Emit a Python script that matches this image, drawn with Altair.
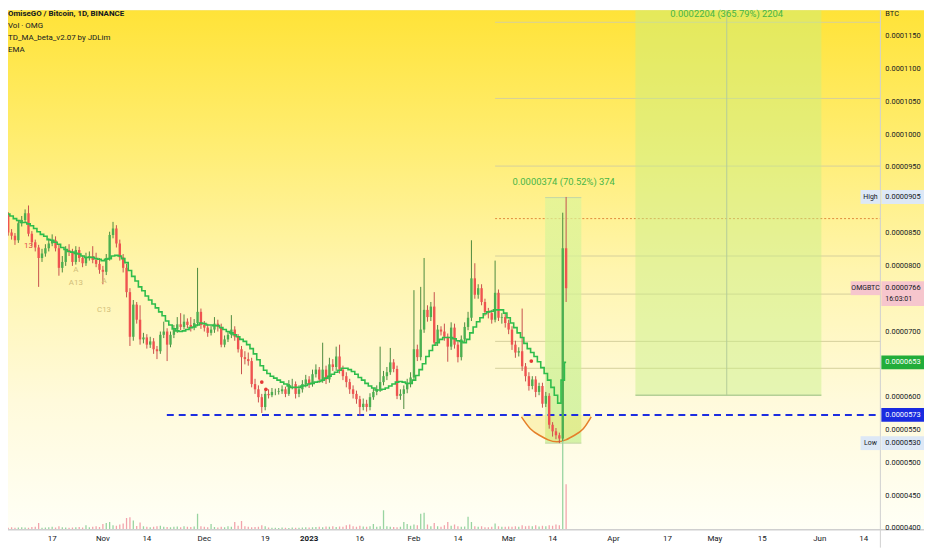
import altair as alt
import numpy as np
import pandas as pd

W, H, AX, DB = 880, 524, 44, 18
FONT = "Roboto"
E = 1e-7  # prices below are in units of 0.0000001 BTC

first_day = "2022-10-03"
first_open_e7 = 885
close_e7 = [
    878, 851, 846, 839, 865, 870, 880, 849, 836, 828,
    812, 819, 827, 834, 839, 827, 797, 806, 824, 821,
    806, 824, 812, 804, 812, 815, 809, 803, 794, 791,
    812, 847, 857, 834, 813, 797, 760, 692, 741, 718,
    688, 691, 680, 685, 673, 670, 695, 700, 680, 695,
    703, 711, 707, 715, 710, 707, 713, 730, 710, 706,
    698, 703, 712, 707, 680, 688, 695, 703, 692, 673,
    661, 658, 655, 620, 612, 600, 585, 605, 603, 608,
    608, 609, 612, 605, 620, 620, 605, 612, 620, 627,
    620, 635, 642, 627, 642, 627, 650, 646, 662, 642,
    632, 623, 612, 605, 597, 585, 590, 585, 600, 608,
    612, 623, 632, 638, 653, 643, 602, 605, 612, 620,
    630, 673, 661, 703, 733, 722, 738, 683, 703, 700,
    692, 677, 706, 680, 661, 688, 707, 721, 781, 756,
    766, 745, 730, 728, 718, 759, 721, 722, 713, 703,
    680, 668, 670, 647, 632, 617, 627, 608, 617, 590,
    602, 558, 548, 542, 537, 827, 766,
]
high_e7 = [
    892, 882, 856, 850, 870, 876, 886, 892, 853, 840,
    832, 826, 833, 842, 848, 845, 832, 815, 830, 833,
    826, 830, 829, 816, 820, 822, 830, 820, 812, 800,
    818, 852, 867, 862, 840, 818, 803, 766, 748, 745,
    740, 698, 696, 692, 690, 678, 700, 715, 705, 700,
    710, 722, 728, 726, 720, 722, 719, 797, 735, 716,
    712, 709, 722, 718, 712, 694, 700, 725, 708, 696,
    678, 670, 668, 660, 628, 618, 605, 610, 612, 614,
    613, 614, 618, 616, 626, 628, 624, 618, 626, 634,
    632, 642, 650, 646, 683, 648, 660, 658, 677, 680,
    648, 638, 628, 618, 610, 602, 598, 596, 606, 614,
    618, 677, 640, 646, 675, 658, 648, 612, 618, 628,
    638, 763, 680, 768, 812, 740, 745, 760, 710, 708,
    712, 697, 714, 712, 686, 694, 714, 730, 839, 804,
    772, 772, 750, 736, 733, 808, 764, 728, 728, 718,
    708, 686, 676, 735, 652, 638, 632, 632, 622, 622,
    608, 606, 562, 553, 546, 881, 905,
]
low_e7 = [
    872, 846, 840, 832, 835, 860, 866, 845, 830, 822,
    768, 806, 814, 822, 830, 822, 785, 790, 800, 815,
    800, 802, 806, 798, 800, 808, 804, 798, 788, 772,
    786, 808, 842, 828, 808, 790, 752, 678, 686, 712,
    680, 682, 674, 675, 666, 658, 666, 690, 655, 676,
    690, 698, 702, 703, 705, 700, 702, 708, 704, 700,
    692, 694, 698, 700, 676, 676, 684, 690, 686, 668,
    635, 650, 648, 615, 605, 592, 576, 580, 598, 600,
    603, 604, 605, 600, 602, 612, 598, 600, 607, 615,
    614, 616, 630, 622, 622, 620, 622, 640, 640, 636,
    626, 615, 605, 598, 590, 572, 580, 578, 580, 596,
    603, 608, 618, 626, 634, 638, 597, 596, 582, 606,
    615, 626, 655, 656, 698, 715, 716, 678, 678, 694,
    686, 654, 672, 674, 653, 656, 684, 702, 716, 750,
    750, 740, 724, 720, 712, 714, 716, 712, 706, 696,
    672, 660, 662, 640, 624, 610, 612, 600, 603, 584,
    585, 552, 540, 536, 530, 533, 745,
]
ema_e7 = [
    881, 879, 876, 872, 869, 866, 866, 864, 861, 857,
    852, 848, 845, 840, 839, 836, 833, 828, 825, 822,
    821, 819, 818, 815, 813, 813, 813, 811, 810, 808,
    810, 811, 815, 816, 815, 811, 805, 793, 784, 777,
    768, 762, 754, 748, 742, 736, 730, 724, 716, 710,
    704, 701, 700, 701, 703, 706, 707, 710, 713, 712,
    710, 710, 709, 709, 706, 703, 700, 698, 695, 692,
    688, 685, 680, 674, 666, 657, 648, 641, 636, 632,
    629, 626, 623, 620, 617, 615, 615, 615, 617, 618,
    620, 621, 623, 624, 626, 629, 632, 635, 638, 641,
    644, 644, 642, 639, 635, 630, 626, 621, 617, 614,
    611, 611, 612, 614, 617, 620, 623, 624, 623, 621,
    621, 626, 633, 642, 651, 662, 671, 679, 683, 688,
    691, 691, 691, 689, 686, 685, 683, 688, 698, 707,
    715, 721, 727, 730, 731, 733, 733, 733, 728, 721,
    713, 706, 698, 691, 682, 674, 668, 662, 654, 645,
    636, 626, 615, 603, 591, 626, 653,
]
vol_k = [
    9, 8, 10, 8, 9, 10, 9, 8, 11, 12,
    26, 8, 9, 10, 12, 9, 14, 10, 9, 8,
    9, 10, 11, 9, 18, 10, 12, 14, 11, 22,
    26, 30, 18, 16, 20, 24, 45, 48, 36, 15,
    28, 14, 12, 10, 12, 14, 16, 12, 11, 10,
    12, 13, 10, 14, 12, 11, 13, 62, 14, 12,
    10, 22, 11, 9, 12, 10, 14, 12, 30, 16,
    34, 14, 12, 10, 11, 12, 18, 14, 9, 8,
    8, 7, 9, 8, 7, 9, 8, 8, 9, 10,
    9, 10, 11, 12, 10, 13, 12, 14, 11, 13,
    12, 18, 20, 14, 12, 16, 13, 12, 14, 22,
    12, 14, 75, 14, 12, 11, 10, 12, 30, 22,
    16, 20, 18, 62, 66, 20, 14, 26, 14, 12,
    18, 30, 16, 20, 14, 12, 13, 50, 30, 14,
    12, 14, 10, 10, 12, 24, 14, 12, 12, 13,
    12, 14, 12, 18, 14, 16, 14, 18, 13, 16,
    14, 18, 16, 20, 18, 900, 175,
]

# drawings / annotations (date, price)
hline_prices_e7 = [1171, 1055, 952, 815, 757, 685, 644]
dotted_price_e7 = 872
support_price_e7 = 573
arc_dates = ["2023-03-04T19:00:00Z", "2023-03-07T10:00:00Z", "2023-03-10T02:00:00Z",
             "2023-03-12T17:00:00Z", "2023-03-15T07:00:00Z", "2023-03-17T22:00:00Z",
             "2023-03-20T12:00:00Z", "2023-03-23T02:00:00Z", "2023-03-25T10:00:00Z"]
arc_prices_e7 = [570, 552, 542, 535, 532, 535, 542, 552, 570]
dot_dates = ["2022-12-18T00:00:00Z", "2022-12-19T05:00:00Z", "2023-03-07T17:00:00Z"]
dot_prices_e7 = [623, 612, 655]
td_dates = ["2022-10-24T00:00:00Z", "2022-10-24T00:00:00Z", "2022-11-01T08:00:00Z", "2022-11-01T08:00:00Z"]
td_prices_e7 = [794, 774, 777, 733]
td_texts = ["A", "A13", "A", "C13"]

date_ticks = ["2022-10-17", "2022-11-01", "2022-11-14", "2022-12-01", "2022-12-19",
              "2023-01-16", "2023-02-01", "2023-02-14", "2023-03-01", "2023-03-14",
              "2023-04-01", "2023-04-17", "2023-05-01", "2023-05-15", "2023-06-01", "2023-06-14"]
date_labels = ["17", "Nov", "14", "Dec", "19", "16", "Feb", "14", "Mar", "14",
               "Apr", "17", "May", "15", "Jun", "14"]
year_tick = "2023-01-01"
price_ticks_e7 = [400, 450, 500, 550, 600, 700, 800, 850, 950, 1000, 1050, 1100, 1150]

n = len(close_e7)
dates = pd.date_range(first_day, periods=n, freq="D").strftime("%Y-%m-%d").tolist()
open_e7 = [first_open_e7] + close_e7[:-1]
df = pd.DataFrame({
    "date": dates,
    "open": [v * E for v in open_e7],
    "close": [v * E for v in close_e7],
    "high": [v * E for v in high_e7],
    "low": [v * E for v in low_e7],
    "ema": [v * E for v in ema_e7],
    "vol": vol_k,
})

XS = alt.Scale(type="utc", domain=[
    alt.DateTime(year=2022, month=10, date=5, hours=9, minutes=45, utc=True),
    alt.DateTime(year=2023, month=6, date=17, hours=11, minutes=30, utc=True)])
YS = alt.Scale(domain=[398 * E, 1189.2 * E], zero=False, nice=False)


def X(f="date"):
    return alt.X(f"{f}:T", scale=XS, axis=None)


def Y(f):
    return alt.Y(f"{f}:Q", scale=YS, axis=None)


one = pd.DataFrame({"k": [0]})
UP = "datum.close >= datum.open"

grad = alt.Gradient(gradient="linear", x1=0, x2=0, y1=0, y2=1, stops=[
    alt.GradientStop(color="#ffe338", offset=0),
    alt.GradientStop(color="#ffed70", offset=0.25),
    alt.GradientStop(color="#fff5ae", offset=0.5),
    alt.GradientStop(color="#fffadb", offset=0.75),
    alt.GradientStop(color="#fffff6", offset=1)])
bg = alt.Chart(one).mark_rect(color=grad, clip=False).encode(
    x=alt.value(0), x2=alt.value(W + AX), y=alt.value(0), y2=alt.value(H))

hl_df = pd.DataFrame({"p": [v * E for v in hline_prices_e7], "d1": "2023-02-25", "d2": "2023-06-25"})
hlines = alt.Chart(hl_df).mark_rule(color="#d6cf9c", strokeWidth=1, clip=True).encode(
    x=X("d1"), x2="d2:T", y=Y("p"))
dot_df = pd.DataFrame({"p": [dotted_price_e7 * E], "d1": ["2023-02-25"], "d2": ["2023-06-25"]})
dotted = alt.Chart(dot_df).mark_rule(color="#e08a3c", strokeWidth=1, strokeDash=[2, 2], clip=True).encode(
    x=X("d1"), x2="d2:T", y=Y("p"))

bb = pd.DataFrame({"d1": ["2023-04-07T12:00:00Z"], "d2": ["2023-06-01T12:00:00Z"],
                   "dm": ["2023-05-04T12:00:00Z"], "p1": [603 * E], "p2": [2807 * E]})
bigbox = alt.Chart(bb).mark_rect(color="#c6ef86", opacity=0.45, clip=True).encode(
    x=X("d1"), x2="d2:T", y=Y("p1"), y2="p2:Q")
bb_bottom = alt.Chart(bb).mark_rule(color="#b4cf96", strokeWidth=1.5, clip=True).encode(
    x=X("d1"), x2="d2:T", y=Y("p1"))
bb_mid = alt.Chart(bb).mark_rule(color="#b4cc98", strokeWidth=1, clip=True).encode(
    x=X("dm"), y=Y("p1"), y2="p2:Q")

sb = pd.DataFrame({"d1": ["2023-03-11T19:00:00Z"], "d2": ["2023-03-22T12:00:00Z"],
                   "p1": [530 * E], "p2": [904 * E]})
sgrad = alt.Gradient(gradient="linear", x1=0, x2=0, y1=0, y2=1, stops=[
    alt.GradientStop(color="#dcf59a", offset=0),
    alt.GradientStop(color="#c2ee8c", offset=1)])
smallbox = alt.Chart(sb).mark_rect(color=sgrad, opacity=0.7, clip=True).encode(
    x=X("d1"), x2="d2:T", y=Y("p1"), y2="p2:Q")
sb_top = alt.Chart(sb).mark_rule(color="#c3d6a6", strokeWidth=1, clip=True).encode(
    x=X("d1"), x2="d2:T", y=Y("p2"))
sb_bot = alt.Chart(sb).mark_rule(color="#c3d6a6", strokeWidth=1, clip=True).encode(
    x=X("d1"), x2="d2:T", y=Y("p1"))

arc_df = pd.DataFrame({"d": arc_dates, "p": [v * E for v in arc_prices_e7],
                       "s": [support_price_e7 * E] * len(arc_dates)})
arc_area = alt.Chart(arc_df).mark_area(color="#f6e36a", opacity=0.35, interpolate="natural", clip=True).encode(
    x=X("d"), y=Y("p"), y2="s:Q")
arc_line = alt.Chart(arc_df).mark_line(color="#e57f2a", strokeWidth=1.5, interpolate="natural", clip=True).encode(
    x=X("d"), y=Y("p"))

sup_df = pd.DataFrame({"p": [support_price_e7 * E], "d1": ["2022-11-19T22:00:00Z"], "d2": ["2023-06-25"]})
support = alt.Chart(sup_df).mark_rule(color="#1d2ee0", strokeWidth=2, strokeDash=[7, 5], clip=True).encode(
    x=X("d1"), x2="d2:T", y=Y("p"))

vol = alt.Chart(df).mark_bar(size=1.3, clip=True).encode(
    x=X(), y=alt.Y("vol:Q", scale=alt.Scale(domain=[0, 2000]), axis=None, stack=None),
    color=alt.condition(UP, alt.value("#98d4a0"), alt.value("#f2a3ab")))

wick = alt.Chart(df).mark_rule(strokeWidth=1, clip=True).encode(
    x=X(), y=Y("low"), y2="high:Q",
    color=alt.condition(UP, alt.value("#4d8a3e"), alt.value("#c6504d")))
body = alt.Chart(df).mark_bar(size=2.4, clip=True).encode(
    x=X(), y=Y("open"), y2="close:Q",
    color=alt.condition(UP, alt.value("#4caf50"), alt.value("#ef5350")))
ema = alt.Chart(df).mark_line(interpolate="step", color="#2fbd4b", strokeWidth=1.6, clip=True).encode(
    x=X(), y=Y("ema"))

dots_df = pd.DataFrame({"d": dot_dates, "p": [v * E for v in dot_prices_e7]})
dots = alt.Chart(dots_df).mark_circle(color="#e53935", size=14, opacity=1).encode(x=X("d"), y=Y("p"))
td_df = pd.DataFrame({"d": td_dates, "p": [v * E for v in td_prices_e7], "t": td_texts})
td = alt.Chart(td_df).mark_text(color="#d2bd78", fontSize=8, font=FONT).encode(x=X("d"), y=Y("p"), text="t:N")
td_red_df = pd.DataFrame({"d": ["2022-10-10T00:00:00Z"], "p": [831 * E], "t": ["13"]})
td_red = alt.Chart(td_red_df).mark_text(color="#e04848", fontSize=8, font=FONT, clip=True).encode(
    x=X("d"), y=Y("p"), text="t:N")

meas_df = pd.DataFrame({"d": ["2023-03-17T07:00:00Z", "2023-05-04T12:00:00Z"],
                        "p": [928 * E, 1183 * E],
                        "t": ["0.0000374 (70.52%) 374", "0.0002204 (365.79%) 2204"]})
meas = alt.Chart(meas_df).mark_text(color="#46b547", fontSize=9.5, font=FONT).encode(
    x=X("d"), y=Y("p"), text="t:N")

band = alt.Chart(one).mark_rect(color="#ffffff", clip=False).encode(
    x=alt.value(0), x2=alt.value(W + AX), y=alt.value(H), y2=alt.value(H + DB))
band_line = alt.Chart(one).mark_rule(color="#cfcfcf", strokeWidth=1.5, clip=False).encode(
    x=alt.value(0), x2=alt.value(W + AX), y=alt.value(H))
vsep = alt.Chart(one).mark_rule(color="#cfcfcf", strokeWidth=1, clip=False).encode(
    x=alt.value(W), y=alt.value(0), y2=alt.value(H + DB))

dt_df = pd.DataFrame({"d": date_ticks, "t": date_labels})
dtext = alt.Chart(dt_df).mark_text(fontSize=8, color="#131722", font=FONT, clip=False).encode(
    x=X("d"), y=alt.value(H + 9), text="t:N")
yr_df = pd.DataFrame({"d": [year_tick], "t": ["2023"]})
ytext = alt.Chart(yr_df).mark_text(fontSize=8, color="#131722", font=FONT, fontWeight="bold").encode(
    x=X("d"), y=alt.value(H + 9), text="t:N")

# price axis labels (right side)
pt_df = pd.DataFrame({"p": [v * E for v in price_ticks_e7],
                      "t": [f"{v * E:.7f}" for v in price_ticks_e7]})
ptext = alt.Chart(pt_df).mark_text(align="left", baseline="middle", fontSize=7.5, color="#131722",
                                   font=FONT, clip=False).encode(
    x=alt.value(W + 5), y=Y("p"), text="t:N")


def axis_box(p_e7, fill, txt, tcolor, top=7, bot=7, left_label=None, left_w=0, sub=None):
    d = pd.DataFrame({"p": [p_e7 * E], "t": [txt]})
    out = [
        alt.Chart(d).mark_rect(color=fill, clip=False, yOffset=-top, y2Offset=bot).encode(
            x=alt.value(W + 1), x2=alt.value(W + AX), y=Y("p"), y2="p:Q"),
        alt.Chart(d).mark_text(align="left", baseline="middle", fontSize=7.5, color=tcolor, font=FONT).encode(
            x=alt.value(W + 5), y=Y("p"), text="t:N"),
    ]
    if sub:
        ds = pd.DataFrame({"p": [p_e7 * E], "t": [sub]})
        out.append(alt.Chart(ds).mark_text(align="left", baseline="middle", fontSize=7, color=tcolor,
                                           font=FONT, dy=11).encode(x=alt.value(W + 5), y=Y("p"), text="t:N"))
    if left_label:
        dl = pd.DataFrame({"p": [p_e7 * E], "t": [left_label]})
        out.append(alt.Chart(dl).mark_rect(color=fill, clip=False, yOffset=-7, y2Offset=7).encode(
            x=alt.value(W - left_w), x2=alt.value(W), y=Y("p"), y2="p:Q"))
        out.append(alt.Chart(dl).mark_text(align="center", baseline="middle", fontSize=7, color="#131722",
                                           font=FONT).encode(x=alt.value(W - left_w / 2), y=Y("p"), text="t:N"))
    return out


boxes = []
boxes += axis_box(905, "#dde8f6", "0.0000905", "#131722", left_label="High", left_w=20)
boxes += axis_box(766, "#f6c6cd", "0.0000766", "#131722", bot=18, left_label="OMGBTC", left_w=30, sub="16:03:01")
boxes += axis_box(653, "#22ad3a", "0.0000653", "#ffffff")
boxes += axis_box(573, "#1a2be0", "0.0000573", "#ffffff")
boxes += axis_box(530, "#dde8f6", "0.0000530", "#131722", left_label="Low", left_w=20)

btc_df = pd.DataFrame({"t": ["BTC"]})
btc = alt.Chart(btc_df).mark_text(align="left", baseline="middle", fontSize=7.5, color="#131722", font=FONT).encode(
    x=alt.value(W + 5), y=alt.value(4), text="t:N")

title_df = pd.DataFrame({"t": ["OmiseGO / Bitcoin, 1D, BINANCE"]})
title1 = alt.Chart(title_df).mark_text(align="left", baseline="middle", fontSize=8, fontWeight="bold",
                                       color="#131722", font=FONT).encode(
    x=alt.value(0), y=alt.value(4), text="t:N")
sub_df = pd.DataFrame({"t": ["Vol · OMG", "TD_MA_beta_v2.07 by JDLim", "EMA"], "row": [1, 2, 3]})
subs = [alt.Chart(sub_df[sub_df.row == r]).mark_text(align="left", baseline="middle", fontSize=8,
                                                     color="#131722", font=FONT).encode(
    x=alt.value(0), y=alt.value(4 + 12 * r), text="t:N") for r in [1, 2, 3]]

back = alt.layer(bg, hlines, dotted, bigbox, bb_bottom, bb_mid, smallbox, sb_top, sb_bot,
                 arc_area, arc_line, support)
front = alt.layer(wick, body, ema, dots, td, td_red, meas, band, band_line, vsep, dtext, ytext,
                  ptext, *boxes, btc, title1, *subs)

chart = alt.layer(back, vol, front).resolve_scale(y="independent").properties(
    width=W, height=H,
    padding={"left": 0, "top": 0, "right": AX, "bottom": DB},
    autosize=alt.AutoSizeParams(type="none"),
).configure_view(stroke=None).configure(background="#ffffff")

chart.save("out.html", embed_options={"renderer": "svg", "actions": False})
